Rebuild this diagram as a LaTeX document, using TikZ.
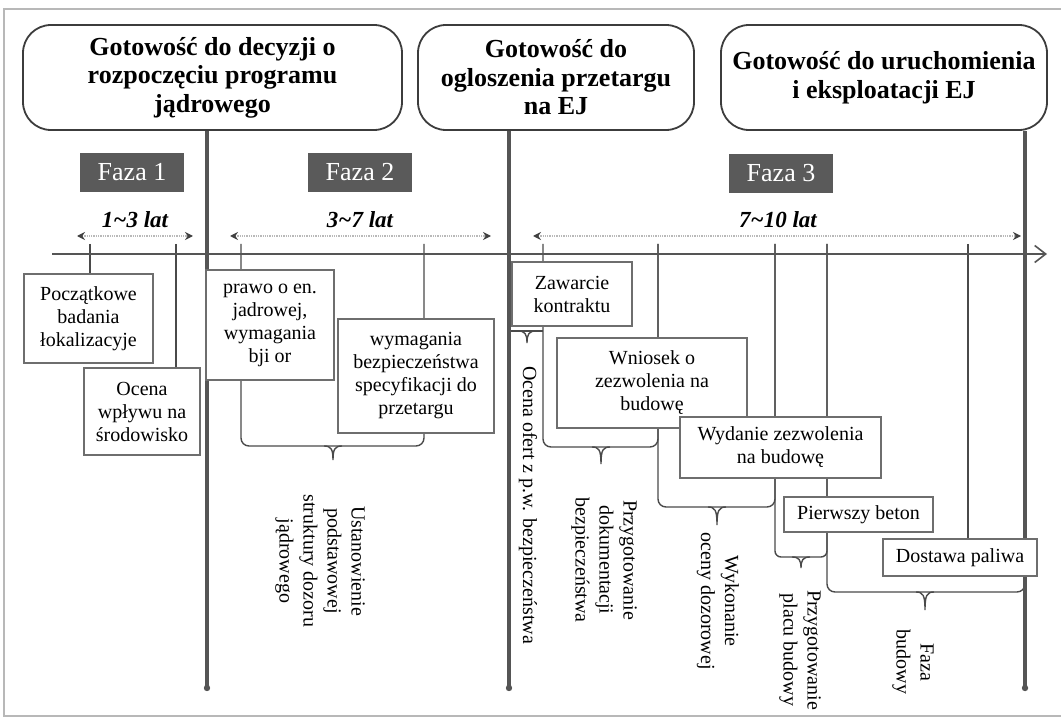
\documentclass[tikz,border=0pt]{standalone}
\usepackage{fontspec}
\setmainfont{Liberation Serif}
\usetikzlibrary{arrows.meta}
\definecolor{linegray}{HTML}{4A4A4A}
\definecolor{thickgray}{HTML}{555555}
\definecolor{fazagray}{HTML}{5A5A5A}
\definecolor{framegray}{HTML}{B8B8B8}
\definecolor{boxgray}{HTML}{6E6E6E}
\definecolor{hdrgray}{HTML}{3C3C3C}
\newcommand\bracetip[3]{\draw[thinl] (#1-9,#2) .. controls (#1-2,#2) and (#1,#2+3) .. (#1,#2+#3) .. controls (#1,#2+3) and (#1+2,#2) .. (#1+9,#2);}
\tikzset{
  hdr/.style={draw=hdrgray, line width=1.8pt, rounded corners=28pt, fill=white, align=center,
    font=\fontsize{26}{28.5}\selectfont\bfseries, inner sep=0pt},
  faza/.style={fill=fazagray, text=white, font=\fontsize{26}{28}\selectfont,
    minimum width=104, minimum height=39, inner sep=0pt},
  dur/.style={font=\fontsize{23}{26}\selectfont\bfseries\itshape, inner sep=0pt},
  tbox/.style={draw=boxgray, line width=1.3pt, fill=white, align=center,
    font=\fontsize{20}{23}\selectfont, inner sep=0pt},
  vtext/.style={rotate=-90, align=center, font=\fontsize{20}{24}\selectfont, inner sep=0pt},
  thinl/.style={draw=linegray, line width=1.4pt},
  thickl/.style={draw=thickgray, line width=3.2pt},
  tline/.style={draw=thickgray, line width=2.4pt, -{Straight Barb[length=11pt,width=17pt,line width=1.6pt]}},
  durarrow/.style={draw=gray!55, line width=1.3pt, densely dotted,
    {Stealth[length=8pt,width=8pt,color=black!75]}-{Stealth[length=8pt,width=8pt,color=black!75]}},
}
\begin{document}
\begin{tikzpicture}[x=1pt,y=-1pt]
\useasboundingbox (0,0) rectangle (1061,722);
% frame
\draw[framegray, line width=1.2pt] (1061,9) -- (4,9) -- (4,716) -- (1061,716);

% timeline tick coordinates
\coordinate (t1) at (90,244);
\coordinate (t2) at (176,244);
\coordinate (t3) at (241,244);
\coordinate (t4) at (424,244);
\coordinate (t5) at (543,244);
\coordinate (t6) at (658,244);
\coordinate (t7) at (775,244);
\coordinate (t8) at (827,244);
\coordinate (t9) at (968,244);

% thin lines and braces
\draw[thinl] (t1) -- (90,280);
\draw[thinl] (t2) -- (176,380);
\draw[thinl, rounded corners=8pt] (t3) -- (241,446) -- (424,446) -- (t4);
\bracetip{333}{446}{14}
\draw[thinl] (509,331) -- (543,331);
\bracetip{527}{331}{12}
\draw[thinl, rounded corners=8pt] (t5) -- (543,447) -- (658,447) -- (t6);
\bracetip{601}{447}{17}
\draw[thinl, rounded corners=8pt] (t6) -- (658,507) -- (775,507) -- (t7);
\bracetip{717}{507}{18}
\draw[thinl, rounded corners=6pt] (t7) -- (775,557) -- (827,557) -- (t8);
\bracetip{801}{557}{11}
\draw[thinl, rounded corners=8pt] (t8) -- (827,592) -- (1025,592) -- (1025,560);
\bracetip{925}{592}{18}
\draw[thinl] (t9) -- (968,545);

% timeline
\coordinate (tlA) at (52,254);
\coordinate (tlB) at (1047,254);
\draw[tline] (tlA) -- (tlB);

% header boxes
\node[hdr, minimum width=379, minimum height=105] (h1) at (212.5,77.5)
  {Gotowość do decyzji o\\rozpoczęciu programu\\jądrowego};
\node[hdr, minimum width=276, minimum height=105] (h2) at (556,77.5)
  {Gotowość do\\ogloszenia przetargu\\na EJ};
\node[hdr, minimum width=326, minimum height=105] (h3) at (884,77.5)
  {Gotowość do uruchomienia\\i eksploatacji EJ};

% thick milestone lines
\coordinate (e1) at (207,688);
\coordinate (e2) at (509,688);
\coordinate (e3) at (1025,688);
\draw[thickl] (e1 |- h1.south) -- (e1);
\draw[thickl] (e2 |- h2.south) -- (e2);
\draw[thickl] (e3 |- h3.south) -- (e3);
\fill[thickgray] (e1) circle (3.2);
\fill[thickgray] (e2) circle (3.2);
\fill[thickgray] (e3) circle (3.2);

% phases
\node[faza] (f1) at (132,172.5) {Faza 1};
\node[faza] (f2) at (360,172.5) {Faza 2};
\node[faza] (f3) at (781,173.5) {Faza 3};

% durations
\node[dur] (d1) at (135,220) {1\textasciitilde3 lat};
\node[dur] (d2) at (360,220) {3\textasciitilde7 lat};
\node[dur] (d3) at (778,220) {7\textasciitilde10 lat};
\coordinate (a1L) at (77,236);  \coordinate (a1R) at (193,236);
\coordinate (a2L) at (230,236); \coordinate (a2R) at (491,236);
\coordinate (a3L) at (533,236); \coordinate (a3R) at (1021,236);
\draw[durarrow] (a1L) -- (a1R);
\draw[durarrow] (a2L) -- (a2R);
\draw[durarrow] (a3L) -- (a3R);

% activity boxes
\node[tbox, minimum width=129, minimum height=89] (pocz) at (88.5,318.5)
  {Początkowe\\badania\\łokalizacyje};
\node[tbox, minimum width=116, minimum height=87] (ocena) at (142,411.5)
  {Ocena\\wpływu na\\środowisko};
\node[tbox, minimum width=128, minimum height=110] (prawo) at (270,325)
  {prawo o en.\\jadrowej,\\wymagania\\bji or};
\node[tbox, minimum width=156, minimum height=114] (wymag) at (416,376)
  {wymagania\\bezpieczeństwa\\specyfikacji do\\przetargu};
\node[tbox, minimum width=120, minimum height=64] (zaw) at (572,294)
  {Zawarcie\\kontraktu};
\node[tbox, minimum width=190, minimum height=90] (wniosek) at (652,383)
  {Wniosek o\\zezwolenia na\\budowę};
\node[tbox, minimum width=201, minimum height=61] (wydanie) at (780.5,447.5)
  {Wydanie zezwolenia\\na budowę};
\node[tbox, minimum width=149, minimum height=35] (pierwszy) at (858.5,514.5)
  {Pierwszy beton};
\node[tbox, minimum width=154, minimum height=37] (dostawa) at (960,557.5)
  {Dostawa paliwa};

% rotated labels
\node[vtext] (v1) at (320,561) {Ustanowienie\\podstawowej\\struktury dozoru\\jądrowego};
\node[vtext] (v2) at (528,505) {Ocena ofert z p.w. bezpieczeństwa};
\node[vtext] (v3) at (604,560) {Przygotowanie\\dokumentacji\\bezpieczeństwa};
\node[vtext] (v4) at (718,601) {Wykonanie\\oceny dozorowej};
\node[vtext] (v5) at (800,650) {Przygotowanie\\placu budowy};
\node[vtext] (v6) at (913,662) {Faza\\budowy};
\end{tikzpicture}
\end{document}
